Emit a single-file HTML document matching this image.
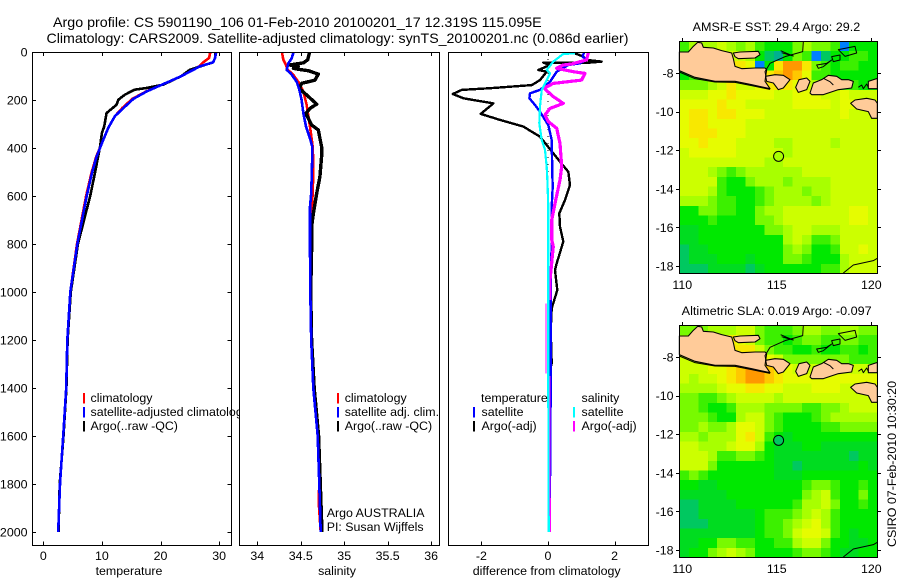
<!DOCTYPE html>
<html lang="en">
<head>
<meta charset="utf-8">
<title>Argo profile</title>
<style>
html,body{margin:0;padding:0;background:#fff;}
svg{display:block;}
text{font-family:"Liberation Sans",sans-serif;font-size:12.4px;fill:#000;}
</style>
</head>
<body>
<svg id="fig" width="900" height="580" viewBox="0 0 900 580" xmlns="http://www.w3.org/2000/svg">
<text x="53" y="27" style="font-size:14px" textLength="488.7" lengthAdjust="spacingAndGlyphs">Argo profile: CS 5901190_106 01-Feb-2010 20100201_17 12.319S 115.095E</text>
<text x="46.5" y="43" style="font-size:14px" textLength="582" lengthAdjust="spacingAndGlyphs">Climatology: CARS2009. Satellite-adjusted climatology: synTS_20100201.nc (0.086d earlier)</text>
<g id="charts"></g>
<g id="maps"></g>
<text x="896" y="547" transform="rotate(-90 896 547)" textLength="166" lengthAdjust="spacingAndGlyphs">CSIRO 07-Feb-2010 10:30:20</text>
</svg>
<script>
// ---------- profile data ----------
const depthTicks = [0,200,400,600,800,1000,1200,1400,1600,1800,2000];
const tempTicks = [0,10,20,30];
const salTicks = [34,34.5,35,35.5,36];
const salTickLabels = ['34','34.5','35','35.5','36'];
const diffTicks = [-2,0,2];

const tempClimDepth = [0,25,43,60,100,140,165,195,233,268,316,380,435,505,600,800,1000,1200,1400,1600,1800,2000];
const tempClimValues = [28.5,28.3,27.3,26.6,23.6,19.9,17.5,15.2,13.5,12.2,11.1,10,9.05,8.2,7.3,5.75,4.6,4.1,3.9,3.4,2.85,2.55];
const tempSatDepth = [0,25,43,60,100,140,165,195,233,268,316,380,435,505,600,800,1000,1200,1400,1600,1800,2000];
const tempSatValues = [29.5,29.3,29,26.7,23.6,19.9,17.6,15.4,13.7,12.2,11.1,10,9.1,8.3,7.4,5.8,4.6,4.1,3.9,3.4,2.85,2.55];
const tempArgoDepth = [0,25,43,74,100,136,150,157,178,199,220,254,310,338,393,505,600,800,1000,1200,1400,1600,1800,2000];
const tempArgoValues = [29.4,29.3,29,25,23.6,20.5,17.6,15.6,13.9,12.8,12.5,10.8,10.4,10,9.7,8.8,8,5.9,4.7,4.15,3.95,3.45,2.8,2.6];

const salClimDepth = [3,33,54,72,96,131,165,221,242,311,395,478,589,686,825,1000,1200,1400,1600,1800,1870,2000];
const salClimValues = [34.284,34.3,34.33,34.345,34.415,34.484,34.53,34.568,34.576,34.606,34.637,34.645,34.637,34.62,34.606,34.61,34.62,34.644,34.695,34.713,34.705,34.73];
const salSatDepth = [3,27,47,75,89,124,158,200,256,311,360,395,478,589,645,825,1000,1200,1400,1600,1800,2000];
const salSatValues = [34.415,34.395,34.357,34.338,34.384,34.453,34.484,34.51,34.53,34.56,34.606,34.633,34.63,34.62,34.606,34.606,34.61,34.62,34.644,34.695,34.713,34.73];
const salArgoDepth = [3,33,45,54,61,68,72,78,92,117,131,152,179,217,235,256,304,325,395,436,520,589,672,728,825,1000,1200,1400,1600,1800,2000];
const salArgoValues = [34.599,34.58,34.53,34.376,34.472,34.415,34.472,34.587,34.702,34.664,34.51,34.484,34.568,34.683,34.606,34.56,34.625,34.702,34.74,34.74,34.72,34.683,34.645,34.625,34.625,34.615,34.625,34.655,34.705,34.725,34.745];

const diffTempSatDepth = [3,19,33,47,54,82,124,158,172,193,221,249,283,304,367,506,561,645,783,1000,1400,1800,2000];
const diffTempSatValues = [1.08,1.04,1.16,0.96,0.61,0.26,0.06,-0.24,-0.54,-0.56,-0.39,-0.24,-0.09,0.01,0.11,0.13,0.14,0.11,0.11,0.08,0.08,0.06,0.03];
const diffTempArgoDepth = [6,19,33,40,44,44,54,75,82,117,138,151,158,175,193,214,258,283,311,353,422,457,499,554,617,672,728,790,881,909,992,1068,1159,1298,1325,1714,1964,2000];
const diffTempArgoValues = [0.81,1.06,1.16,1.61,1.26,-0.14,0.06,-0.29,-0.04,-0.24,-0.49,-1.74,-2.59,-2.86,-2.54,-1.64,-2.02,-1.44,-0.74,-0.24,0.16,0.36,0.61,0.66,0.51,0.34,0.36,0.46,0.26,0.21,0.28,0.11,0.08,0.11,0.06,0.06,0.04,0.02];
const diffSalSatDepth = [6,8,40,75,89,131,158,228,297,367,408,478,526,644,783,1400,2000];
const diffSalSatValues = [0.81,0.46,0.16,-0.04,0.06,-0.09,-0.19,-0.24,-0.26,-0.19,-0.09,-0.04,-0.02,0.01,0.01,0.01,0.02];
const diffSalArgoDepth = [3,33,50,54,68,82,89,117,131,151,186,214,235,262,290,318,381,478,533,631,700,783,811,950,1034];
const diffSalArgoValues = [1.21,1.16,0.71,0.46,0.26,0.76,1.11,1.01,0.16,-0.12,0.16,0.46,0.06,-0.09,0.01,0.26,0.36,0.41,0.36,0.21,0.11,0.11,0.16,0.06,0.06];
const diffSalArgoDeepDepth = [1047,1339];
const diffSalArgoDeepValues = [-0.06,-0.06];
const diffSalArgoBottomDepth = [1350,1700,2000];
const diffSalArgoBottomValues = [0.06,0.06,0.07];

// ---------- map data (levels on the colour scale, 0.5 degree cells, north to south) ----------
const mapLons = [110,115,120];
const mapLats = [8,10,12,14,16,18];
const sstField = [
[4,6,6,6,7,6,5,6,4,3,3,3,5,6,5,5,4,13,3,3,3],
[4,6,6,6,7,7,7,6,3,1,0,3,5,4,13,1,3,3,4,4,3],
[5,6,6,7,7,9,9,8,13,3,9,11,11,9,5,4,3,4,4,3,3],
[3,4,4,5,6,7,10,9,9,9,10,11,10,8,4,4,3,3,3,3,3],
[5,5,5,6,7,9,7,7,8,9,9,9,8,7,6,5,5,4,4,3,3],
[7,7,7,8,8,9,8,8,8,8,7,7,8,8,8,7,7,8,7,7,7],
[8,8,8,8,9,8,8,7,7,7,7,7,8,8,8,8,7,8,8,7,7],
[8,9,9,8,9,9,8,8,8,7,7,7,7,7,7,7,7,8,7,7,7],
[8,9,9,8,8,8,8,7,7,7,7,7,7,7,7,7,7,7,7,7,7],
[8,9,9,9,8,8,8,7,7,7,7,7,7,7,7,7,7,7,7,7,7],
[8,8,9,8,8,8,7,7,7,7,6,6,7,7,7,7,6,7,7,7,7],
[7,8,8,8,8,8,7,7,7,7,7,6,7,7,7,7,7,7,7,7,7],
[7,7,7,7,7,7,7,7,7,6,6,7,7,7,7,7,7,7,7,7,7],
[7,7,7,6,5,4,5,6,6,6,6,6,6,7,7,7,7,7,7,7,7],
[7,7,7,7,4,3,3,5,6,6,6,5,6,6,6,6,7,7,7,7,7],
[7,7,7,6,4,3,3,3,4,5,6,6,6,5,6,6,7,7,7,7,7],
[6,6,6,5,4,4,3,3,4,5,6,6,6,6,5,6,7,7,7,7,7],
[3,3,5,5,4,4,3,3,5,6,6,7,7,7,7,7,7,7,8,8,7],
[3,3,3,4,3,3,3,3,5,5,6,7,7,7,7,7,7,7,8,8,7],
[2,2,3,3,3,3,3,3,3,5,5,6,7,7,6,6,6,7,7,7,7],
[2,2,3,3,3,3,3,3,3,3,3,6,7,6,4,4,5,7,7,7,7],
[1,2,2,3,3,3,3,3,3,3,3,5,6,5,3,3,4,7,7,8,7],
[1,2,2,2,3,3,3,2,3,3,3,5,5,4,3,3,3,6,7,7,7],
[1,1,1,2,2,2,2,1,2,3,3,3,3,3,3,4,4,6,7,7,7]
];
const slaField = [
[5,5,5,6,6,6,7,7,5,4,4,4,5,6,6,5,5,6,6,5,5],
[6,6,6,7,8,9,8,7,5,4,4,3,4,5,5,4,4,5,5,4,4],
[7,7,7,8,8,9,9,9,7,5,4,4,3,3,4,3,3,4,4,3,4],
[7,7,7,8,8,9,10,10,8,8,7,5,5,5,5,5,5,5,4,4,4],
[7,7,7,8,8,9,10,11,11,10,9,8,7,7,7,7,7,7,7,7,7],
[7,6,7,7,8,9,10,11,11,10,9,8,8,8,8,8,8,8,8,8,8],
[6,6,6,6,7,8,8,9,9,8,8,7,7,7,8,8,8,7,7,8,8],
[5,5,4,4,5,6,7,7,7,7,6,7,7,7,7,7,7,7,7,7,7],
[5,5,4,3,3,4,6,6,6,5,5,5,5,4,4,5,5,6,7,7,7],
[5,5,5,4,3,3,6,7,7,5,4,3,3,3,4,5,6,6,6,6,6],
[5,5,6,5,5,6,8,8,7,5,4,3,3,3,3,4,4,5,5,5,5],
[6,6,5,6,6,6,8,9,7,4,3,2,3,3,3,3,3,3,3,3,3],
[7,7,6,6,6,7,8,8,6,3,2,2,2,3,3,2,2,2,2,2,2],
[7,7,7,6,4,4,5,5,4,3,2,2,2,2,2,2,2,2,1,2,2],
[7,7,7,5,3,3,3,3,3,3,2,2,1,2,2,2,2,2,2,3,2],
[4,5,4,3,3,3,3,3,3,3,2,2,2,3,3,3,3,3,3,3,3],
[3,3,2,2,3,3,3,3,3,3,3,3,3,4,5,5,4,3,3,4,3],
[2,2,2,2,2,3,3,3,3,3,3,3,3,5,6,7,4,3,3,5,3],
[1,1,2,2,2,2,3,3,3,3,3,3,4,6,6,7,5,3,3,4,3],
[1,1,2,2,2,2,2,2,3,4,4,4,5,6,7,6,4,3,3,3,3],
[1,1,1,2,2,2,2,2,3,4,4,5,6,7,8,6,4,3,3,3,3],
[2,2,2,2,2,2,2,2,3,4,4,5,7,8,8,7,4,3,2,3,3],
[2,2,3,3,5,5,4,4,3,3,4,4,6,7,7,5,3,3,2,2,3],
[2,3,3,5,6,7,6,5,3,3,3,3,4,5,5,4,3,2,2,3,3]
];
const argoLon = 115.095;
const argoLat = -12.319;
const sstArgoLevel = 6;
const slaArgoLevel = 1;

const NS = 'http://www.w3.org/2000/svg';
const charts = document.getElementById('charts');
const maps = document.getElementById('maps');
function mk(parent, tag, attrs, txt){
  const el = document.createElementNS(NS, tag);
  for(const k in attrs){ el.setAttribute(k, attrs[k]); }
  if(txt !== undefined){ el.textContent = txt; }
  parent.appendChild(el);
  return el;
}

// ---------- axis functions ----------
const yDepth = d => 52 + d * 0.24;
const xTemp = v => 43.3 + v * 5.86;
const xSal = v => 257.3 + (v - 34) * 86.9;
const xDiff = v => 548 + v * 33.3;

function framePanel(name, x0, x1, xs, ticks, labels, xTitle, xTitleX){
  const g = mk(charts, 'g', {});
  
  
  const bg = mk(g, 'rect', {x:x0, y:52.5, width:x1-x0, height:493, fill:'#fff', stroke:'none'});
  
  
  ticks.forEach((t, i) => {
    const px = Math.round(xs(t)) + 0.5;
    const up = mk(g, 'path', {d:`M${px} 52.5V56M${px} 545.5V541.5`, stroke:'#000', 'shape-rendering':'crispEdges', fill:'none'});
    
    
    const lb = mk(g, 'text', {x:xs(t), y:560, 'text-anchor':'middle'}, labels[i]);
    
    
  });
  const tt = mk(g, 'text', {x:xTitleX, y:575, 'text-anchor':'middle'}, xTitle);
  
  
  return g;
}
function frameBorder(g, name, x0, x1){
  const f = mk(g, 'rect', {x:x0, y:52.5, width:x1-x0, height:493, fill:'none', stroke:'#000', 'shape-rendering':'crispEdges'});
  
  
}
function series(g, name, depths, values, xs, color, w){
  const pts = depths.map((d, i) => xs(values[i]).toFixed(1) + ',' + yDepth(d).toFixed(1)).join(' ');
  const p = mk(g, 'polyline', {points:pts, fill:'none', stroke:color, 'stroke-width':w, 'stroke-linejoin':'round', 'shape-rendering':'crispEdges'});
  
  
}
function legend(g, name, mx, tx, y, color, label){
  if(color){
    const m = mk(g, 'rect', {x:mx, y:y-9, width:2, height:10.5, fill:color, 'shape-rendering':'crispEdges'});
    
    
  }
  const t = mk(g, 'text', {x:tx, y:y}, label);
  
  
}

// ---------- temperature panel ----------
const p1 = framePanel('temperature-panel', 32.5, 231.5, xTemp, tempTicks, tempTicks.map(String), 'temperature', 129);
depthTicks.forEach(d => {
  const py = Math.round(yDepth(d)) + 0.5;
  const tk = mk(p1, 'path', {d:`M32.5 ${py}H36M231.5 ${py}H227.5`, stroke:'#000', 'shape-rendering':'crispEdges', fill:'none'});
  
  
  const lb = mk(p1, 'text', {x:27.5, y:yDepth(d)+4.5, 'text-anchor':'end'}, String(d));
  
  
});
series(p1, 'temperature-climatology-line', tempClimDepth, tempClimValues, xTemp, '#ff0000', 2.6);
series(p1, 'temperature-argo-line', tempArgoDepth, tempArgoValues, xTemp, '#000000', 2.6);
series(p1, 'temperature-satellite-line', tempSatDepth, tempSatValues, xTemp, '#0000ff', 2.6);
frameBorder(p1, 'temperature-panel', 32.5, 231.5);
legend(p1, 'legend-climatology', 83, 90.5, 402, '#ff0000', 'climatology');
legend(p1, 'legend-satellite-adjusted', 83, 90.5, 416, '#0000ff', 'satellite-adjusted climatology');
legend(p1, 'legend-argo', 83, 90.5, 430, '#000000', 'Argo(..raw -QC)');

// ---------- salinity panel ----------
const p2 = framePanel('salinity-panel', 239.5, 439.5, xSal, salTicks, salTickLabels, 'salinity', 337);
series(p2, 'salinity-climatology-line', salClimDepth, salClimValues, xSal, '#ff0000', 2.6);
series(p2, 'salinity-argo-line', salArgoDepth, salArgoValues, xSal, '#000000', 3.4);
series(p2, 'salinity-satellite-line', salSatDepth, salSatValues, xSal, '#0000ff', 2.6);
frameBorder(p2, 'salinity-panel', 239.5, 439.5);
legend(p2, 'legend-climatology-salinity', 337, 344.7, 402, '#ff0000', 'climatology');
legend(p2, 'legend-satellite-salinity', 337, 344.7, 416, '#0000ff', 'satellite adj. clim.');
legend(p2, 'legend-argo-salinity', 337, 344.7, 430, '#000000', 'Argo(..raw -QC)');
legend(p2, 'float-country-label', 0, 326.7, 517, null, 'Argo AUSTRALIA');
legend(p2, 'principal-investigator-label', 0, 326.7, 531, null, 'PI: Susan Wijffels');

// ---------- difference panel ----------
const p3 = framePanel('difference-panel', 448.5, 648.5, xDiff, diffTicks, diffTicks.map(String), 'difference from climatology', 546.7);
const zero = mk(p3, 'line', {x1:xDiff(0), x2:xDiff(0), y1:yDepth(0), y2:yDepth(2000), stroke:'#000', 'stroke-dasharray':'1 6', 'shape-rendering':'crispEdges'});


series(p3, 'difference-temperature-argo-line', diffTempArgoDepth, diffTempArgoValues, xDiff, '#000000', 2.4);
series(p3, 'difference-temperature-satellite-line', diffTempSatDepth, diffTempSatValues, xDiff, '#0000ff', 2.4);
series(p3, 'difference-salinity-argo-line', diffSalArgoDepth, diffSalArgoValues, xDiff, '#ff00ff', 3.2);
series(p3, 'difference-salinity-argo-deep-line', diffSalArgoDeepDepth, diffSalArgoDeepValues, xDiff, '#ff00ff', 1);
series(p3, 'difference-salinity-argo-bottom-line', diffSalArgoBottomDepth, diffSalArgoBottomValues, xDiff, '#ff00ff', 1.2);
series(p3, 'difference-salinity-satellite-line', diffSalSatDepth, diffSalSatValues, xDiff, '#00ffff', 2.2);
frameBorder(p3, 'difference-panel', 448.5, 648.5);
legend(p3, 'legend-temperature-heading', 0, 481, 402, null, 'temperature');
legend(p3, 'legend-temperature-satellite', 473, 481.5, 416, '#0000ff', 'satellite');
legend(p3, 'legend-temperature-argo', 473, 481.5, 430, '#000000', 'Argo(-adj)');
legend(p3, 'legend-salinity-heading', 0, 581.5, 402, null, 'salinity');
legend(p3, 'legend-salinity-satellite', 573, 581.5, 416, '#00ffff', 'satellite');
legend(p3, 'legend-salinity-argo', 573, 581.5, 430, '#ff00ff', 'Argo(-adj)');

// ---------- maps ----------
const palette = ['#00b090','#00c860','#00dc20','#00e800','#3cf000','#78fa00','#a8ff00','#ccff00','#e6fc00','#f8e800','#ffc800','#ff9800','#e86000','#0080ff'];
const LAND = '#ffcb99';
const landPolys = [
 'M58 126L85 126L100 109L113 97L125 99L130 112L160 114L185 122L215 129L220 146L225 169L245 176L285 174L315 174L320 179L317 199L315 214L330 236L275 224L225 214L165 214L105 202L58 182Z',
 'M220 129L240 126L295 124L300 134L285 144L235 146L225 140Z',
 'M317 199L345 194L370 196L390 209L370 234L355 239L340 219L320 214Z',
 'M407 232L417 209L440 204L450 214L440 239L415 247Z',
 'M450 249L460 219L485 209L505 196L530 199L545 209L565 209L580 214L575 234L535 239L490 254L455 254Z',
 'M625 214L650 206L652 206L652 236L625 236Z',
 'M572 280L585 270L620 265L645 270L652 280L652 325L635 325L625 305L590 297Z'
];
const coastLines = [
 'M430 93L428 125L375 140L330 160L315 185L318 200',
 'M58 186L105 206L165 216L225 217L275 227L330 238',
 'M535 119L585 109L590 129L555 139Z',
 'M515 140L540 135L540 150L520 155Z',
 'M470 165L500 160L515 150L490 170L475 175Z',
 'M362 122L380 130L400 138L385 134L365 128',
 'M550 789L580 765L640 752L652 745',
 'M595 232L605 225L610 236L620 222L625 232',
 'M490 205L510 215L520 225'
];
const xLon = lon => 682.3 + (lon - 110) * 18.9;

function drawMap(name, dy, field, argoLevel, title, titleX, titleW, titleY, labelY){
  const g = mk(maps, 'g', {});
  
  
  const left = 679.5, top = 41.5 + dy, right = 877.5, bottom = 273.5 + dy;
  const yLat = lat => 73 + dy + (lat - 8) * 19.3;
  const cw = (right - left) / field[0].length;
  const ch = (bottom - top) / field.length;
  field.forEach((row, r) => {
    row.forEach((v, c) => {
      const cell = mk(g, 'rect', {x:left + c * cw, y:top + r * ch, width:cw + 0.5, height:ch + 0.5, fill:palette[Math.max(0, Math.min(palette.length - 1, Math.round(v)))], 'shape-rendering':'crispEdges'});
      
      
    });
  });
  const coast = mk(g, 'g', {transform:`translate(660 ${10 + dy}) scale(${1/3})`, 'stroke-linejoin':'round'});
  
  
  landPolys.forEach(d => {
    const land = mk(coast, 'path', {d:d, fill:LAND, stroke:'#000', 'stroke-width':3.2});
    
    
  });
  coastLines.forEach(d => {
    const line = mk(coast, 'path', {d:d, fill:'none', stroke:'#000', 'stroke-width':3});
    
    
  });
  const marker = mk(g, 'circle', {cx:xLon(argoLon), cy:yLat(-argoLat), r:5, fill:palette[argoLevel], stroke:'#000', 'stroke-width':1});
  
  
  const frame = mk(g, 'rect', {x:left, y:top, width:right-left, height:bottom-top, fill:'none', stroke:'#000', 'shape-rendering':'crispEdges'});
  
  
  mapLons.forEach(lon => {
    const px = Math.round(xLon(lon)) + 0.5;
    const t = mk(g, 'line', {x1:px, x2:px, y1:top, y2:top - 3.5, stroke:'#000', 'shape-rendering':'crispEdges'});
    
    
    const l = mk(g, 'text', {x:xLon(lon), y:labelY, 'text-anchor':'middle'}, String(lon));
    
    
  });
  mapLats.forEach(lat => {
    const py = Math.round(yLat(lat)) + 0.5;
    const t = mk(g, 'path', {d:`M${left} ${py}H${left-3.5}M${right} ${py}H${right+3.5}`, stroke:'#000', fill:'none', 'shape-rendering':'crispEdges'});
    
    
    const l = mk(g, 'text', {x:673.5, y:yLat(lat) + 4.5, 'text-anchor':'end'}, '-' + lat);
    
    
  });
  const tt = mk(g, 'text', {x:titleX, y:titleY, textLength:titleW, lengthAdjust:'spacingAndGlyphs'}, title);
  
  
}
drawMap('sst-map', 0, sstField, sstArgoLevel, 'AMSR-E SST: 29.4 Argo: 29.2', 692.7, 167.5, 31, 289);
drawMap('sla-map', 284, slaField, slaArgoLevel, 'Altimetric SLA: 0.019 Argo: -0.097', 681.7, 190, 315, 573);
</script>
</body>
</html>
